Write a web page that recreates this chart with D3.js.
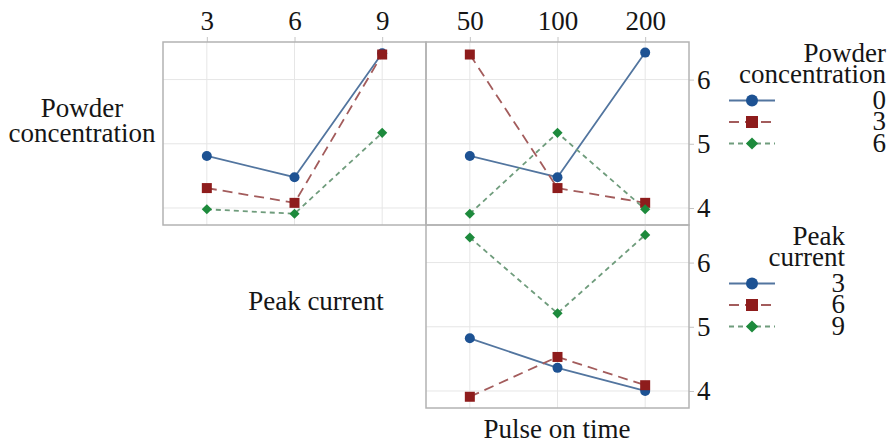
<!DOCTYPE html>
<html>
<head>
<meta charset="utf-8">
<script src="https://cdn.jsdelivr.net/npm/d3@7"></script>
<style>
  body { margin: 0; background: #fff; }
  text { font-family: "Liberation Serif", "Times New Roman", serif; fill: #151515; }
</style>
</head>
<body>
<div id="chart"></div>
<script>
// Levels of each factor
const peakCurrent = [3, 6, 9];
const pulseOnTime = [50, 100, 200];
const powderLevels = [0, 3, 6];
const peakLevels = [3, 6, 9];
const yTicks = [4, 5, 6];

// Means: powder concentration (traces) vs peak current (x)
const powderByPeak = [
    [4.81, 4.48, 6.41],
    [4.31, 4.08, 6.39],
    [3.98, 3.91, 5.17]
];
// Means: powder concentration (traces) vs pulse on time (x)
const powderByPulse = [
    [4.81, 4.48, 6.42],
    [6.39, 4.31, 4.08],
    [3.91, 5.17, 3.98]
];
// Means: peak current (traces) vs pulse on time (x)
const peakByPulse = [
    [4.82, 4.36, 4.00],
    [3.91, 4.53, 4.09],
    [6.39, 5.21, 6.43]
];

function draw() {
    let dimensions = {
        width: 890,
        height: 445,
        panelW: 263,
        panelH: 183,
        left: 163,
        top: 42,
    }
    const fontSize = 27

    const styles = [
        { fill: "#1d5293", line: "#52759f", dash: null, shape: "circle" },
        { fill: "#8e1c1c", line: "#a35c5c", dash: "10,6", shape: "square" },
        { fill: "#1d8a3c", line: "#6f9c7c", dash: "5,4", shape: "diamond" },
    ]

    const svg = d3.select("#chart")
        .append("svg")
        .attr("width", dimensions.width)
        .attr("height", dimensions.height)

    const yScale = d3.scaleLinear()
        .domain([3.735, 6.585])
        .range([dimensions.panelH, 0])

    const marker = (sel, s, big) => {
        const k = big ? 1.2 : 1
        if (s.shape === "circle") {
            sel.append("circle").attr("r", 5 * k).attr("fill", s.fill)
        } else if (s.shape === "square") {
            sel.append("rect")
                .attr("x", -5 * k).attr("y", -5 * k)
                .attr("width", 10 * k).attr("height", 10 * k)
                .attr("fill", s.fill)
        } else {
            sel.append("path")
                .attr("d", d3.symbol(d3.symbolSquare, 52 * k * k)())
                .attr("transform", "rotate(45)")
                .attr("fill", s.fill)
        }
    }

    function panel(x0, y0, levels, series, topAxis, rightAxis) {
        const xScale = d3.scalePoint()
            .domain(levels)
            .range([0, dimensions.panelW])
            .padding(0.5)

        const g = svg.append("g")
            .attr("transform", `translate(${x0}, ${y0})`)

        // grid
        g.selectAll(".vgrid")
            .data(levels)
            .join("line")
            .attr("x1", (d) => xScale(d)).attr("x2", (d) => xScale(d))
            .attr("y1", 0).attr("y2", dimensions.panelH)
            .attr("stroke", "#e6e6e6")
        g.selectAll(".hgrid")
            .data(yTicks)
            .join("line")
            .attr("x1", 0).attr("x2", dimensions.panelW)
            .attr("y1", (d) => yScale(d)).attr("y2", (d) => yScale(d))
            .attr("stroke", "#e6e6e6")

        if (topAxis) {
            const ax = g.append("g")
                .call(d3.axisTop(xScale).tickSize(5).tickPadding(7))
            ax.select(".domain").remove()
            ax.selectAll("line").attr("stroke", "#c4c4c4")
            ax.selectAll("text").style("font-size", fontSize + "px")
                .style("font-family", "Liberation Serif").attr("fill", "#151515")
        }
        if (rightAxis) {
            const ax = g.append("g")
                .attr("transform", `translate(${dimensions.panelW}, 0)`)
                .call(d3.axisRight(yScale)
                    .tickValues(yTicks)
                    .tickFormat(d3.format("d"))
                    .tickSize(5)
                    .tickPadding(3))
            ax.select(".domain").remove()
            ax.selectAll("line").attr("stroke", "#c4c4c4")
            ax.selectAll("text").style("font-size", fontSize + "px")
                .style("font-family", "Liberation Serif").attr("fill", "#151515")
        }

        g.append("rect")
            .attr("width", dimensions.panelW)
            .attr("height", dimensions.panelH)
            .attr("fill", "none")
            .attr("stroke", "#b3b3b3")
            .attr("stroke-width", 1.5)

        const line = d3.line()
            .x((d, i) => xScale(levels[i]))
            .y((d) => yScale(d))

        series.forEach((vals, i) => {
            const s = styles[i]
            g.append("path")
                .datum(vals)
                .attr("d", line)
                .attr("fill", "none")
                .attr("stroke", s.line)
                .attr("stroke-width", 1.8)
                .attr("stroke-dasharray", s.dash)
        })
        series.forEach((vals, i) => {
            g.selectAll(null)
                .data(vals)
                .join("g")
                .attr("transform", (d, j) => `translate(${xScale(levels[j])}, ${yScale(d)})`)
                .each(function () { marker(d3.select(this), styles[i], false) })
        })
    }

    const { left, top, panelW, panelH } = dimensions
    panel(left, top, peakCurrent, powderByPeak, true, false)
    panel(left + panelW, top, pulseOnTime, powderByPulse, true, true)
    panel(left + panelW, top + panelH, pulseOnTime, peakByPulse, false, true)

    // Factor labels
    const label = (x, y, lines) => {
        const t = svg.append("text")
            .attr("text-anchor", "middle")
            .style("font-size", fontSize + "px")
        lines.forEach((s, i) => {
            t.append("tspan").attr("x", x).attr("y", y + i * 25).text(s)
        })
    }
    label(82, 117, ["Powder", "concentration"])
    label(316, 310, ["Peak current"])
    label(557, 438, ["Pulse on time"])

    // Legends
    function legend(rightX, titleY, title, levels) {
        const g = svg.append("g")
        title.forEach((s, i) => {
            g.append("text")
                .attr("x", rightX).attr("y", titleY + i * 20.5)
                .attr("text-anchor", "end")
                .style("font-size", fontSize + "px")
                .text(s)
        })
        levels.forEach((lv, i) => {
            const cy = titleY + 38.5 + i * 21.5
            const s = styles[i]
            g.append("line")
                .attr("x1", 729).attr("x2", 775)
                .attr("y1", cy).attr("y2", cy)
                .attr("stroke", s.line)
                .attr("stroke-width", 1.8)
                .attr("stroke-dasharray", s.dash)
            const m = g.append("g").attr("transform", `translate(752, ${cy})`)
            marker(m, s, true)
            g.append("text")
                .attr("x", rightX).attr("y", cy + 8)
                .attr("text-anchor", "end")
                .style("font-size", fontSize + "px")
                .text(lv)
        })
    }
    legend(886, 62, ["Powder", "concentration"], powderLevels)
    legend(845, 245, ["Peak", "current"], peakLevels)
}

draw();
</script>
</body>
</html>
